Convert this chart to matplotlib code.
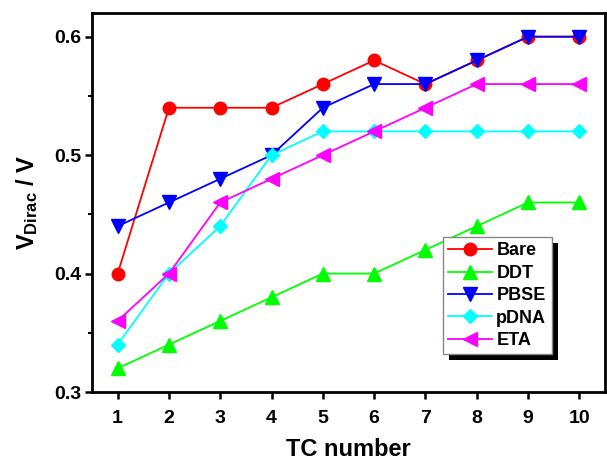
import matplotlib
matplotlib.use("Agg")
import matplotlib.pyplot as plt
from matplotlib.patches import Rectangle
from matplotlib.transforms import IdentityTransform
from matplotlib.ticker import MultipleLocator

plt.rcParams['font.family'] = ['Liberation Sans', 'DejaVu Sans']
plt.rcParams['font.weight'] = 'bold'
plt.rcParams['mathtext.fontset'] = 'custom'
plt.rcParams['mathtext.rm'] = 'Liberation Sans:bold'
plt.rcParams['mathtext.bf'] = 'Liberation Sans:bold'
plt.rcParams['mathtext.it'] = 'Liberation Sans:bold'

tc = [1, 2, 3, 4, 5, 6, 7, 8, 9, 10]
bare = [0.40, 0.54, 0.54, 0.54, 0.56, 0.58, 0.56, 0.58, 0.60, 0.60]
ddt = [0.32, 0.34, 0.36, 0.38, 0.40, 0.40, 0.42, 0.44, 0.46, 0.46]
pbse = [0.44, 0.46, 0.48, 0.50, 0.54, 0.56, 0.56, 0.58, 0.60, 0.60]
pdna = [0.34, 0.40, 0.44, 0.50, 0.52, 0.52, 0.52, 0.52, 0.52, 0.52]
eta = [0.36, 0.40, 0.46, 0.48, 0.50, 0.52, 0.54, 0.56, 0.56, 0.56]

series = [
    ("Bare", bare, "#FF0000", "o", 9),
    ("DDT", ddt, "#00FF00", "^", 10.5),
    ("PBSE", pbse, "#0000FF", "v", 10.5),
    ("pDNA", pdna, "#00FFFF", "D", 7.5),
    ("ETA", eta, "#FF00FF", "<", 10.5),
]

fig = plt.figure(figsize=(6.07, 4.61), dpi=100)
ax = fig.add_axes([92/607, 1-392/461, (605-92)/607, (392-13)/461])

for name, vals, col, mk, ms in series:
    ax.plot(tc, vals, color=col, marker=mk, markersize=ms, linewidth=1.3,
            markeredgecolor=col, label=name)

ax.set_xlim(0.5, 10.5)
ax.set_ylim(0.3, 0.62)
ax.set_xticks(tc)
ax.set_yticks([0.3, 0.4, 0.5, 0.6])
ax.yaxis.set_minor_locator(MultipleLocator(0.05))
for s in ['left', 'bottom', 'top', 'right']:
    ax.spines[s].set_linewidth(2)
ax.tick_params(which='major', direction='out', length=5, width=1.8,
               labelsize=14, top=False, right=False)
ax.tick_params(axis='x', which='major', pad=8)
ax.tick_params(axis='y', which='major', pad=3)
ax.tick_params(which='minor', direction='out', length=3, width=1.5,
               top=False, right=False)
for lab in ax.get_xticklabels() + ax.get_yticklabels():
    lab.set_fontweight('bold')

ax.set_xlabel("TC number", fontsize=17, fontweight='bold', labelpad=8)
ax.set_ylabel(r"V$_{\mathrm{Dirac}}$ / V", fontsize=17, fontweight='bold', labelpad=10)

leg = ax.legend(loc='upper left', bbox_to_anchor=((443-92)/513, (392-237)/379),
                borderaxespad=0, fancybox=False, frameon=True, fontsize=13,
                handlelength=2.4, handletextpad=0.25, labelspacing=0.3,
                borderpad=0.3, edgecolor='#888888', framealpha=1)
leg.get_frame().set_linewidth(1.0)
for t in leg.get_texts():
    t.set_fontweight('bold')
leg.set_zorder(6)

fig.canvas.draw()
bb = leg.get_window_extent()
shadow = Rectangle((bb.x0 + 6, bb.y0 - 6), bb.width, bb.height,
                   transform=IdentityTransform(), facecolor='black',
                   edgecolor='none', zorder=5.5)
ax.add_artist(shadow)

fig.savefig("out.png", dpi=100)
